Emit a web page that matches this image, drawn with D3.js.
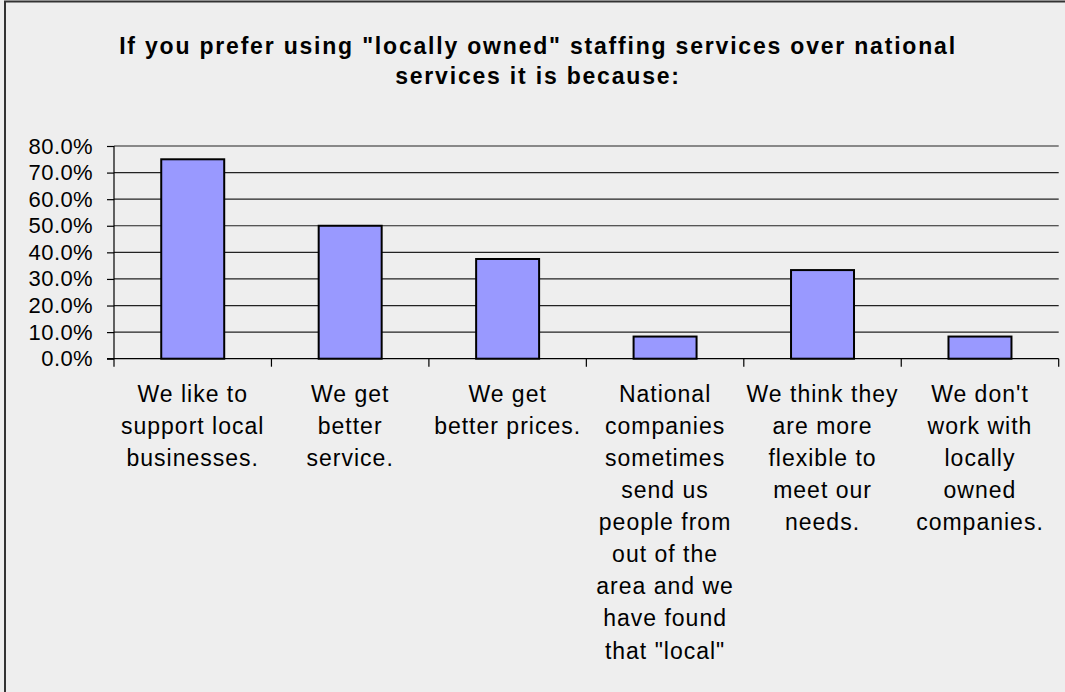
<!DOCTYPE html>
<html>
<head>
<meta charset="utf-8">
<script src="https://cdn.jsdelivr.net/npm/d3@7"></script>
<style>
  html, body { margin: 0; padding: 0; background: #eeeeee; }
  svg { display: block; }
  text { font-family: "Liberation Sans", Arial, sans-serif; fill: #000; }
</style>
</head>
<body>
<script>
// Survey question and answer categories
const titleLines = [
  "If you prefer using \"locally owned\" staffing services over national",
  "services it is because:"
];

const categories = [
  ["We like to", "support local", "businesses."],
  ["We get", "better", "service."],
  ["We get", "better prices."],
  ["National", "companies", "sometimes", "send us", "people from", "out of the", "area and we", "have found", "that \"local\""],
  ["We think they", "are more", "flexible to", "meet our", "needs."],
  ["We don't", "work with", "locally", "owned", "companies."]
];

// Share of respondents choosing each reason
const values = [0.75, 0.50, 0.375, 0.0833, 0.3333, 0.0833];

const yTicks = [0, 0.1, 0.2, 0.3, 0.4, 0.5, 0.6, 0.7, 0.8];

const W = 1065, H = 692;
const plot = { left: 114, right: 1058.7, top: 146, bottom: 358.7 };

const svg = d3.select("body").append("svg")
  .attr("width", W).attr("height", H);

// Chart frame
svg.append("rect")
  .attr("x", 5).attr("y", 1.5)
  .attr("width", W + 20).attr("height", H + 20)
  .attr("fill", "#eeeeee")
  .attr("stroke", "#333").attr("stroke-width", 2);

// Title
svg.append("g").selectAll("text").data(titleLines).join("text")
  .attr("x", 538)
  .attr("y", (d, i) => 54 + i * 30)
  .attr("text-anchor", "middle")
  .attr("font-size", 23)
  .attr("font-weight", "bold")
  .attr("letter-spacing", "1.8px")
  .text(d => d);

const idx = categories.map((d, i) => i);

const xCat = d3.scaleBand().domain(idx).range([plot.left, plot.right]).padding(0);
const xBar = d3.scaleBand().domain(idx).range([plot.left, plot.right])
  .paddingInner(0.6).paddingOuter(0.3);
const y = d3.scaleLinear().domain([0, 0.8]).range([plot.bottom, plot.top]);

// Horizontal gridlines
svg.append("g").selectAll("line").data(yTicks.filter(t => t > 0)).join("line")
  .attr("x1", plot.left).attr("x2", plot.right)
  .attr("y1", d => y(d)).attr("y2", d => y(d))
  .attr("stroke", "#222").attr("stroke-width", 1.2);

// Y axis
const yAxis = svg.append("g")
  .attr("transform", `translate(${plot.left},0)`)
  .call(d3.axisLeft(y).tickValues(yTicks).tickFormat(d3.format(".1%"))
    .tickSize(7).tickPadding(14));
yAxis.select(".domain").remove();
yAxis.selectAll(".tick line").attr("stroke", "#000").attr("stroke-width", 1.2);
yAxis.selectAll(".tick text")
  .attr("font-size", 22)
  .attr("letter-spacing", "0.4px")
  .attr("font-family", "Liberation Sans, Arial, sans-serif")
  .attr("fill", "#000");
svg.append("line")
  .attr("x1", plot.left).attr("x2", plot.left)
  .attr("y1", plot.top).attr("y2", plot.bottom + 8)
  .attr("stroke", "#000").attr("stroke-width", 1.2);

// Bars
svg.append("g").selectAll("rect").data(values).join("rect")
  .attr("x", (d, i) => xBar(i))
  .attr("width", xBar.bandwidth())
  .attr("y", d => y(d))
  .attr("height", d => y(0) - y(d))
  .attr("fill", "#9999ff")
  .attr("stroke", "#000")
  .attr("stroke-width", 2);

// X axis baseline and category boundary ticks
svg.append("line")
  .attr("x1", plot.left - 7).attr("x2", plot.right)
  .attr("y1", plot.bottom).attr("y2", plot.bottom)
  .attr("stroke", "#000").attr("stroke-width", 1.2);
const bounds = idx.map(i => xCat(i)).concat([plot.right]);
svg.append("g").selectAll("line").data(bounds.slice(1)).join("line")
  .attr("x1", d => d).attr("x2", d => d)
  .attr("y1", plot.bottom).attr("y2", plot.bottom + 8)
  .attr("stroke", "#000").attr("stroke-width", 1.2);

// Category labels, wrapped onto lines
const labels = svg.append("g").selectAll("text").data(categories).join("text")
  .attr("text-anchor", "middle")
  .attr("font-size", 23)
  .attr("letter-spacing", "1px");
labels.selectAll("tspan").data((d, i) => d.map(t => ({ t, i }))).join("tspan")
  .attr("x", d => xCat(d.i) + xCat.bandwidth() / 2)
  .attr("y", (d, j) => 401.7 + j * 32.1)
  .text(d => d.t);
</script>
</body>
</html>
